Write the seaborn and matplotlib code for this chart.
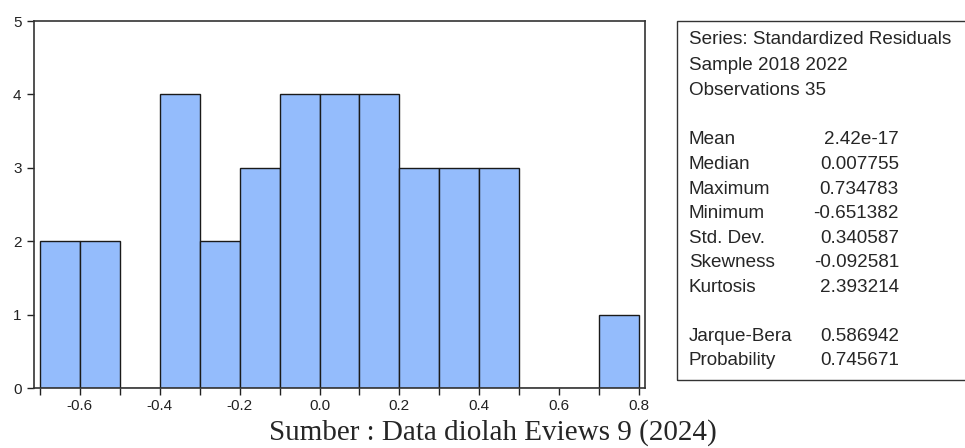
import numpy as np
import matplotlib
matplotlib.use("Agg")
from matplotlib import pyplot as plt
from matplotlib.patches import Rectangle
import seaborn as sns

# histogram bins (width 0.1) and counts
bin_edges = [-0.7, -0.6, -0.5, -0.4, -0.3, -0.2, -0.1, 0.0, 0.1, 0.2, 0.3, 0.4, 0.5, 0.6, 0.7, 0.8]
counts = [2, 2, 0, 4, 2, 3, 4, 4, 4, 3, 3, 3, 0, 0, 1]
x_ticks = [-0.6, -0.4, -0.2, 0.0, 0.2, 0.4, 0.6, 0.8]

header_lines = ["Series: Standardized Residuals", "Sample 2018 2022", "Observations 35"]
stat_names = ["Mean", "Median", "Maximum", "Minimum", "Std. Dev.", "Skewness", "Kurtosis"]
stat_values = ["2.42e-17", "0.007755", "0.734783", "-0.651382", "0.340587", "-0.092581", "2.393214"]
test_names = ["Jarque-Bera", "Probability"]
test_values = ["0.586942", "0.745671"]

sns.set_style("white")
plt.rcParams['font.family'] = ['Liberation Sans', 'DejaVu Sans']

fig = plt.figure(figsize=(9.65, 4.48), dpi=100)
ax = fig.add_axes([0.0352, 0.1339, 0.6332, 0.8192])

mids = [(bin_edges[i] + bin_edges[i + 1]) / 2 for i in range(len(counts))]
sns.histplot(x=mids, weights=counts, bins=bin_edges, ax=ax,
             color="#94bcfc", alpha=1, edgecolor="#1a1a1a", linewidth=1)

ax.set_xlim(-0.715, 0.815)
ax.set_ylim(0, 5)
ax.set_xticks(x_ticks)
ax.set_xticklabels([f"{t:.1f}" for t in x_ticks])
ax.set_xticks(bin_edges, minor=True)
ax.set_yticks([0, 1, 2, 3, 4, 5])
ax.set_xlabel("")
ax.set_ylabel("")
ax.tick_params(axis="both", which="both", direction="out", length=5, width=1,
               colors="#222222", labelsize=11, bottom=True, left=True, pad=3)
ax.tick_params(axis="y", pad=4)
for s in ax.spines.values():
    s.set_color("#333333")
    s.set_linewidth(1.2)

# statistics box
box = Rectangle((0.7016, 0.1518), 0.31, 0.8013, transform=fig.transFigure,
                fill=False, edgecolor="#333333", linewidth=1, clip_on=False)
fig.patches.append(box)

fs = 13.6
lx = 689 / 965
rx = 899 / 965
ys = [40, 65, 90]
for t, y in zip(header_lines, ys):
    fig.text(lx, 1 - y / 448, t, fontsize=fs, va="center", ha="left")
for i, (n, v) in enumerate(zip(stat_names, stat_values)):
    y = 1 - (140 + i * 24.5) / 448
    fig.text(lx, y, n, fontsize=fs, va="center", ha="left")
    fig.text(rx, y, v, fontsize=fs, va="center", ha="right")
for i, (n, v) in enumerate(zip(test_names, test_values)):
    y = 1 - (336 + i * 24.5) / 448
    fig.text(lx, y, n, fontsize=fs, va="center", ha="left")
    fig.text(rx, y, v, fontsize=fs, va="center", ha="right")

fig.text(493 / 965, 1 - 433 / 448, "Sumber : Data diolah Eviews 9 (2024)",
         family=["Liberation Serif", "DejaVu Serif"], fontsize=21, ha="center", va="center")

fig.savefig("out.png", dpi=100)
